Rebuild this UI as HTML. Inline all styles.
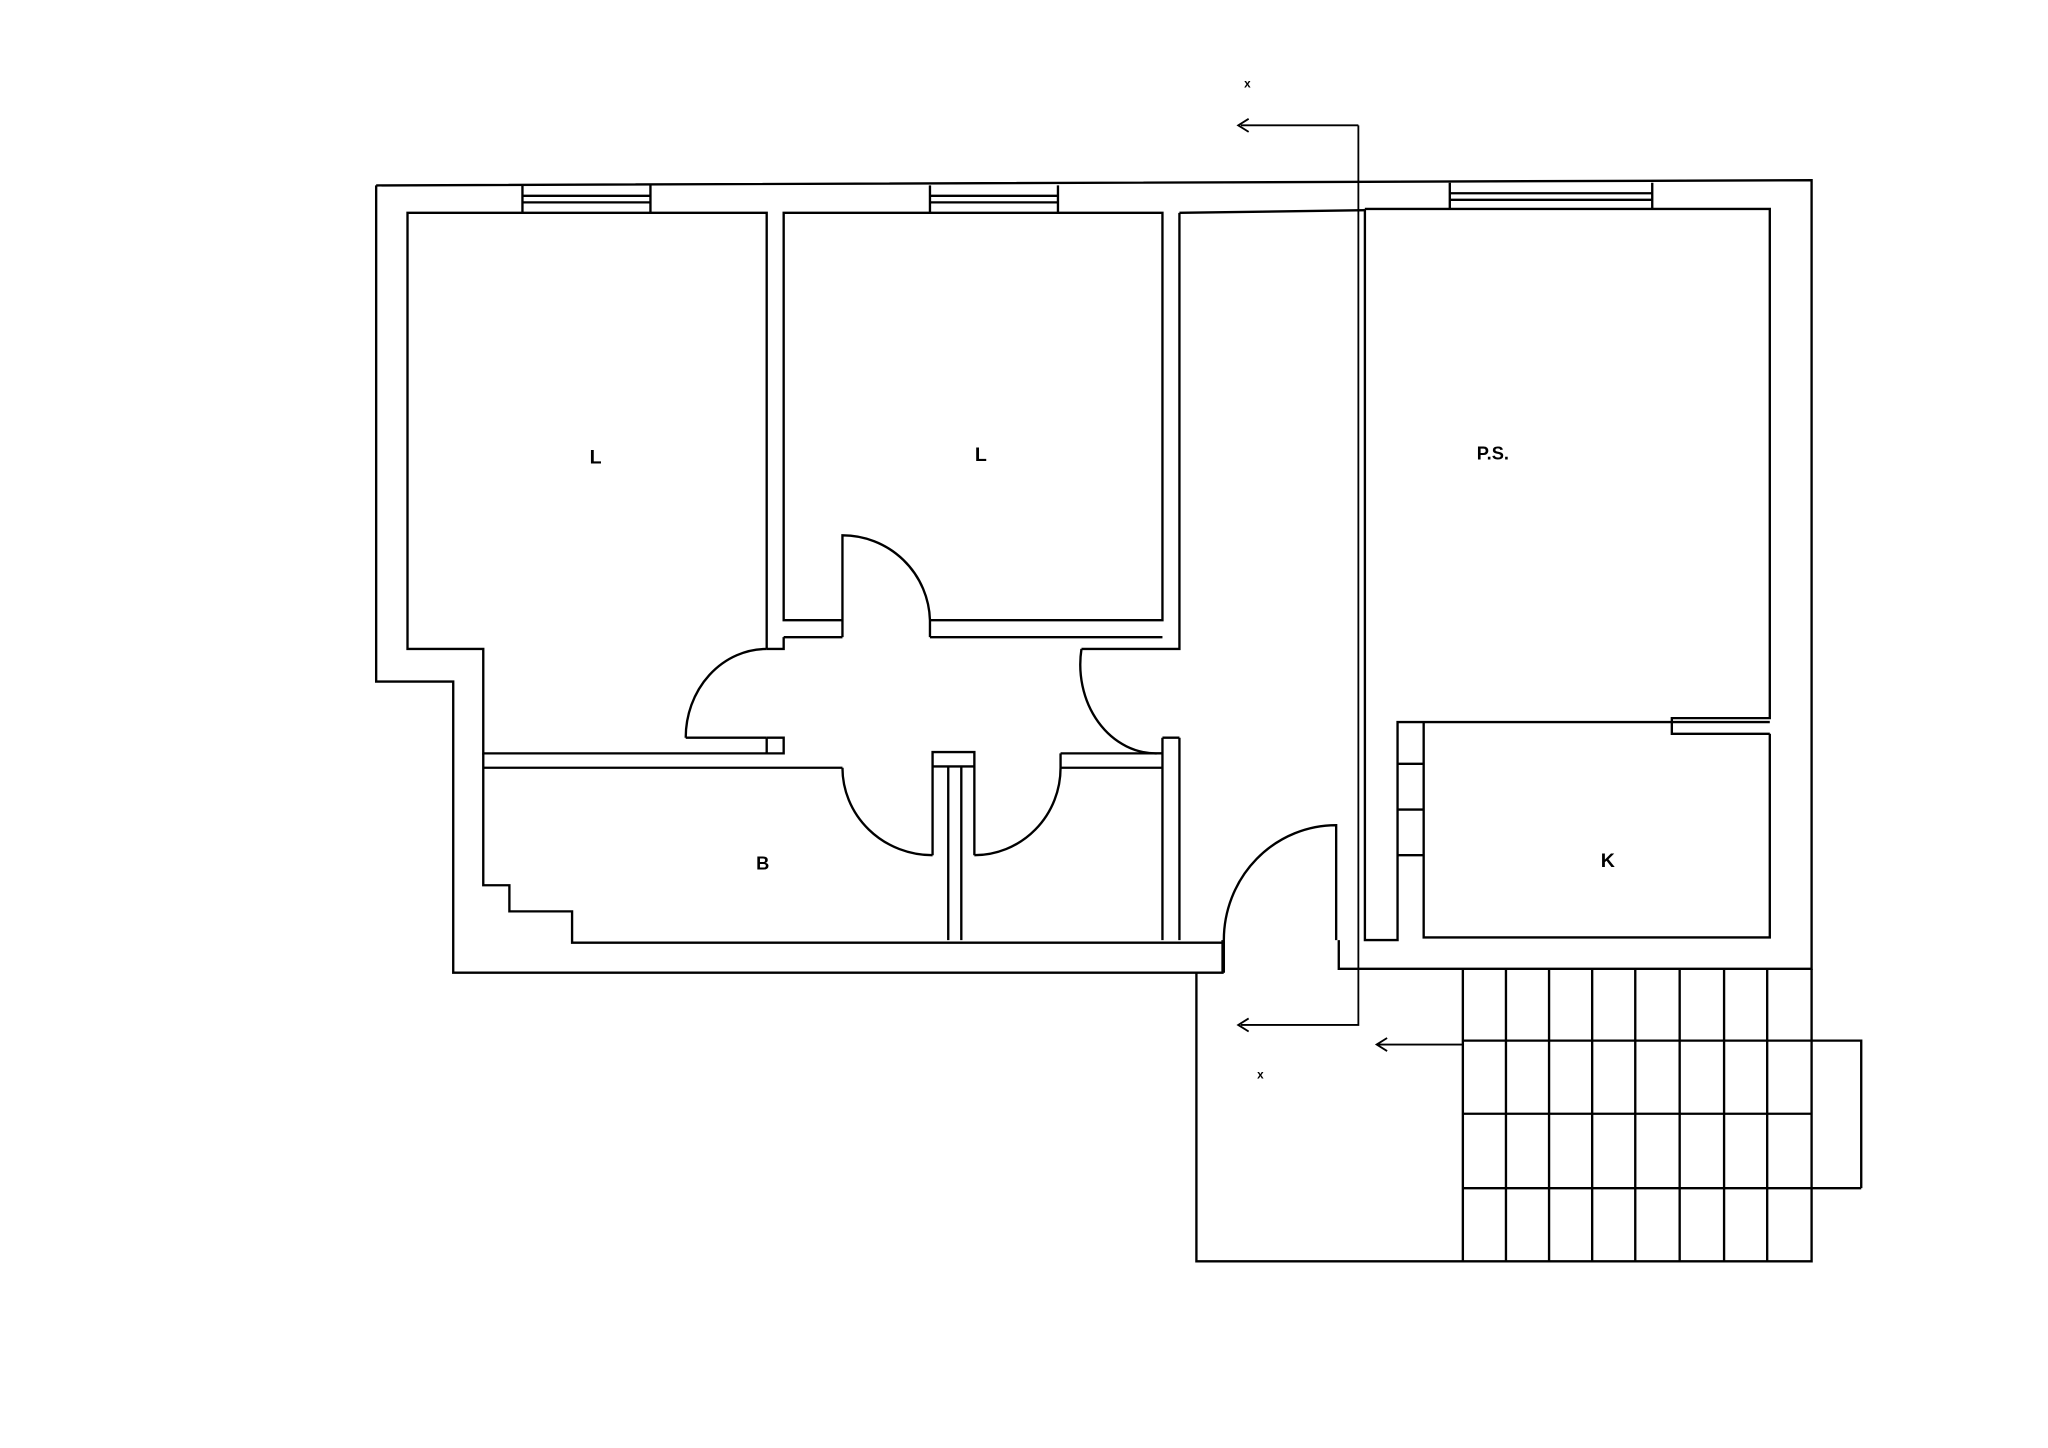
<!DOCTYPE html>
<html><head><meta charset="utf-8"><style>html,body{margin:0;padding:0;background:#fff}svg{display:block}</style></head>
<body>
<svg width="2048" height="1448" viewBox="0 0 1568 1109" preserveAspectRatio="none" xmlns="http://www.w3.org/2000/svg">
<g fill="none" stroke="#000" stroke-width="1.8" stroke-linejoin="miter">
<!-- outer wall -->
<path d="M288,142 L1387,138 L1387,742 L1025,742 L1025,720"/>
<path d="M288,142 L288,522 L347,522 L347,745 L936,745 L936,720"/>
<!-- windows -->
<path d="M400,142 L400,163 M498,142 L498,163 M400,150 L498,150 M400,155 L498,155"/>
<path d="M712,142 L712,163 M810,142 L810,163 M712,150 L810,150 M712,155 L810,155"/>
<path d="M1110,140 L1110,160 M1265,140 L1265,160 M1110,148 L1265,148 M1110,153 L1265,153"/>
<!-- room L1 -->
<path d="M587,497 L587,163 L312,163 L312,497 L370,497 L370,577 L587,577 L587,565"/>
<!-- room L2 -->
<path d="M645,475 L600,475 L600,163 L890,163 L890,475 L712,475"/>
<!-- wall under L2 -->
<path d="M600,488 L645,488 M712,488 L890,488"/>
<path d="M600,488 L600,497 L587,497 M587,565 L600,565 L600,577 L587,577"/>
<!-- corridor right walls -->
<path d="M903,163 L1045,161 M903,163 L903,497 L828,497 M903,565 L903,720 M890,565 L890,720"/>
<path d="M890,565 L903,565"/>
<!-- B room -->
<path d="M370,588 L645,588 M370,577 L370,678 L390,678 L390,698 L438,698 L438,722 L936,722"/>
<path d="M812,588 L890,588 M812,577 L890,577"/>
<!-- closets -->
<path d="M714,655 L714,576 L746,576 L746,655 M714,587 L726,587 M736,587 L746,587 M726,587 L726,720 M736,587 L736,720 M726,587 L736,587"/>
<!-- P.S. room -->
<path d="M1045,160 L1355,160 L1355,550 L1280,550 L1280,562 L1355,562 M1045,160 L1045,720 L1070,720 L1070,553 L1355,553"/>
<!-- kitchen -->
<path d="M1090,553 L1090,718 L1355,718 L1355,562"/>
<path d="M1070,585 L1090,585 M1070,620 L1090,620 M1070,655 L1090,655"/>
<!-- doors -->
<path d="M645,488 L645,410 A67,67 0 0 1 712,475 L712,488"/>
<path d="M525,565 L587,565 M525,565 A62,68 0 0 1 587,497"/>
<path d="M828,497 A58,68 0 0 0 886,577 L890,577"/>
<path d="M645,588 A69,67 0 0 0 714,655"/>
<path d="M746,655 A66,67 0 0 0 812,588 L812,577"/>
<path d="M1023,720 L1023,632 A86,88 0 0 0 937,720 L937,745"/>
<!-- terrace -->
<path d="M916,745 L916,966 L1387,966 L1387,742"/>
<path d="M1120,742 L1120,966 M1153,742 L1153,966 M1186,742 L1186,966 M1219,742 L1219,966 M1252,742 L1252,966 M1286,742 L1286,966 M1320,742 L1320,966 M1353,742 L1353,966"/>
<path d="M1120,853 L1387,853 M1120,910 L1425,910 M1387,797 L1425,797 L1425,910 M1120,797 L1387,797"/>
<!-- section line -->
<path d="M1040,96 L1040,785 L950,785 M1040,96 L950,96" stroke-width="1.4"/>
<path d="M956,91 L948,96 L956,101 M956,780 L948,785 L956,790" stroke-width="1.4"/>
<path d="M1120,800 L1055,800 M1062,795 L1054,800 L1062,805" stroke-width="1.4"/>
</g>
<g font-family="Liberation Sans, sans-serif" font-weight="bold" font-size="15" fill="#000" text-anchor="middle">
<text x="456" y="355">L</text>
<text x="751" y="353">L</text>
<text x="1143" y="352" font-size="14">P.S.</text>
<text x="584" y="666" font-size="14">B</text>
<text x="1231" y="664">K</text>
<text x="955" y="67" font-size="9">x</text>
<text x="965" y="826" font-size="9">x</text>
</g>
</svg>
</body></html>
